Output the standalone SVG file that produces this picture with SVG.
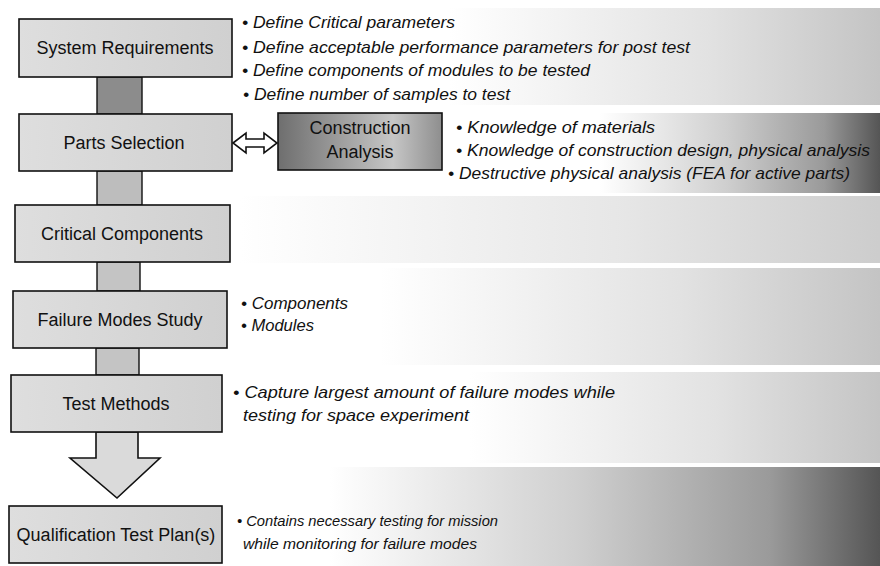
<svg xmlns="http://www.w3.org/2000/svg" width="880" height="566" viewBox="0 0 880 566">
<defs>
<linearGradient id="bandLight" x1="0" y1="0" x2="1" y2="0">
<stop offset="0" stop-color="#ffffff"/>
<stop offset="0.6" stop-color="#e2e2e2"/>
<stop offset="1" stop-color="#c4c4c4"/>
</linearGradient>
<linearGradient id="bandDark" x1="0" y1="0" x2="1" y2="0">
<stop offset="0" stop-color="#ffffff"/>
<stop offset="0.45" stop-color="#cfcfcf"/>
<stop offset="0.8" stop-color="#9a9a9a"/>
<stop offset="1" stop-color="#555555"/>
</linearGradient>
<linearGradient id="caGrad" x1="0" y1="0" x2="1" y2="0">
<stop offset="0" stop-color="#6e6e6e"/>
<stop offset="0.7" stop-color="#c6c6c6"/>
<stop offset="1" stop-color="#8e8e8e"/>
</linearGradient>
<linearGradient id="boxGrad" x1="0" y1="0" x2="1" y2="0">
<stop offset="0" stop-color="#dedede"/>
<stop offset="1" stop-color="#d0d0d0"/>
</linearGradient>
</defs>
<style>
.box{fill:url(#boxGrad);stroke:#111;stroke-width:1.6}
.lbl{font-family:"Liberation Sans",Arial,sans-serif;font-size:18px;fill:#111;text-anchor:middle}
.bul{font-family:"Liberation Sans",Arial,sans-serif;font-size:17px;font-style:italic;fill:#111}
.sm{font-size:15.5px}
.bar{stroke:#111;stroke-width:1.4}
.arr{fill:#dadada;stroke:#111;stroke-width:1.6;stroke-linejoin:miter}
</style>
<rect width="880" height="566" fill="#ffffff"/>
<g id="bands">
<rect x="450" y="8" width="430" height="97" fill="url(#bandLight)"/>
<rect x="600" y="113" width="280" height="80" fill="url(#bandDark)"/>
<rect x="240" y="196" width="640" height="67" fill="url(#bandLight)" opacity="0.85"/>
<rect x="380" y="268" width="500" height="97" fill="url(#bandLight)"/>
<rect x="470" y="372" width="410" height="91" fill="url(#bandLight)"/>
<rect x="330" y="467" width="550" height="99" fill="url(#bandDark)"/>
</g>
<g id="connectors">
<rect class="bar" x="97" y="77" width="45" height="37" fill="#8c8c8c"/>
<rect class="bar" x="97" y="171" width="45" height="34" fill="#bdbdbd"/>
<rect class="bar" x="97" y="262" width="43" height="29" fill="#c4c4c4"/>
<rect class="bar" x="96" y="348" width="43" height="27" fill="#c4c4c4"/>
<path class="arr" d="M96,432 L138,432 L138,458 L160,458 L117,498 L70,458 L96,458 Z"/>
<path class="arr" style="fill:#ffffff" d="M233,143 L246,133 L246,139 L264,139 L264,133 L277,143 L264,153 L264,147 L246,147 L246,153 Z"/>
</g>
<g id="system-requirements">
<rect class="box" x="19" y="19" width="213" height="58"/>
<text class="lbl" x="125" y="54">System Requirements</text>
<text class="bul" x="242" y="28" textLength="213" lengthAdjust="spacingAndGlyphs">• Define Critical parameters</text>
<text class="bul" x="242" y="53" textLength="448" lengthAdjust="spacingAndGlyphs">• Define acceptable performance parameters for post test</text>
<text class="bul" x="242" y="76" textLength="348" lengthAdjust="spacingAndGlyphs">• Define components of modules to be tested</text>
<text class="bul" x="243" y="100" textLength="267" lengthAdjust="spacingAndGlyphs">• Define number of samples to test</text>
</g>
<g id="parts-selection">
<rect class="box" x="19" y="114" width="213" height="57"/>
<text class="lbl" x="124" y="149">Parts Selection</text>
</g>
<g id="construction-analysis">
<rect x="278" y="113" width="164" height="57" fill="url(#caGrad)" stroke="#111" stroke-width="1.6"/>
<text class="lbl" x="360" y="134">Construction</text>
<text class="lbl" x="360" y="158">Analysis</text>
<text class="bul" x="456" y="133" textLength="199" lengthAdjust="spacingAndGlyphs">• Knowledge of materials</text>
<text class="bul" x="456" y="156" textLength="414" lengthAdjust="spacingAndGlyphs">• Knowledge of construction design, physical analysis</text>
<text class="bul" x="448" y="179" textLength="402" lengthAdjust="spacingAndGlyphs">• Destructive physical analysis (FEA for active parts)</text>
</g>
<g id="critical-components">
<rect class="box" x="15" y="205" width="215" height="57"/>
<text class="lbl" x="122" y="240">Critical Components</text>
</g>
<g id="failure-modes-study">
<rect class="box" x="13" y="291" width="214" height="57"/>
<text class="lbl" x="120" y="326">Failure Modes Study</text>
<text class="bul" x="241" y="309" textLength="107" lengthAdjust="spacingAndGlyphs">• Components</text>
<text class="bul" x="241" y="331" textLength="73" lengthAdjust="spacingAndGlyphs">• Modules</text>
</g>
<g id="test-methods">
<rect class="box" x="11" y="375" width="211" height="57"/>
<text class="lbl" x="116" y="410">Test Methods</text>
<text class="bul" x="233" y="398" textLength="382" lengthAdjust="spacingAndGlyphs">• Capture largest amount of failure modes while</text>
<text class="bul" x="243" y="421" textLength="226" lengthAdjust="spacingAndGlyphs">testing for space experiment</text>
</g>
<g id="qualification-test-plans">
<rect class="box" x="9" y="506" width="213" height="57"/>
<text class="lbl" x="116" y="541">Qualification Test Plan(s)</text>
<text class="bul sm" x="237" y="526" textLength="261" lengthAdjust="spacingAndGlyphs">• Contains necessary testing for mission</text>
<text class="bul sm" x="243" y="549" textLength="234" lengthAdjust="spacingAndGlyphs">while monitoring for failure modes</text>
</g>
</svg>
